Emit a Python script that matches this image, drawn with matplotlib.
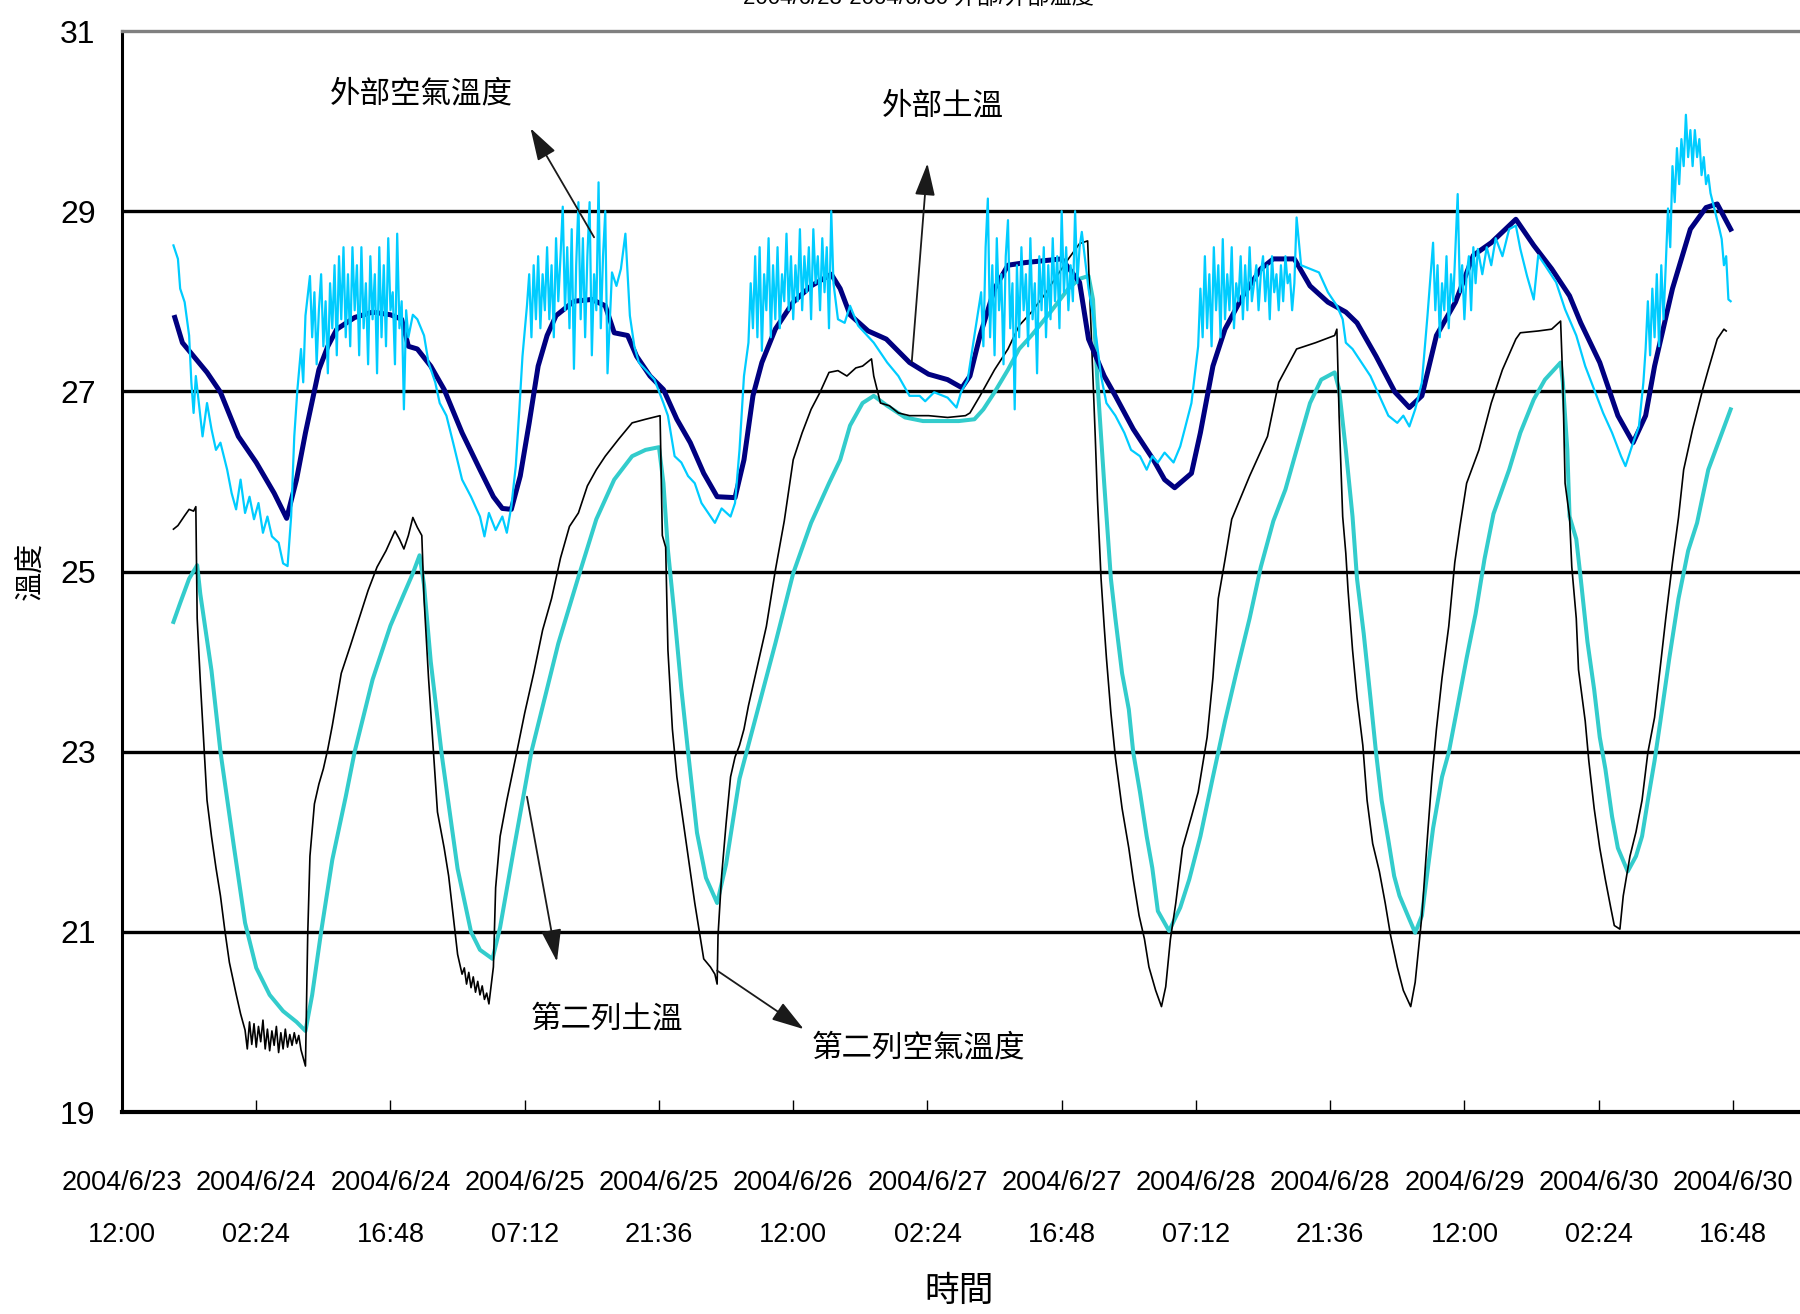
import numpy as np
import matplotlib
matplotlib.use("Agg")
import matplotlib.pyplot as plt
from matplotlib import font_manager as fm

# ---------------- data (days since 2004/6/23 12:00) ----------------
tick_labels = ["2004/6/23\n12:00", "2004/6/24\n02:24", "2004/6/24\n16:48",
               "2004/6/25\n07:12", "2004/6/25\n21:36", "2004/6/26\n12:00",
               "2004/6/27\n02:24", "2004/6/27\n16:48", "2004/6/28\n07:12",
               "2004/6/28\n21:36", "2004/6/29\n12:00", "2004/6/30\n02:24",
               "2004/6/30\n16:48"]
tick_step_days = 0.6
y_ticks = [19, 21, 23, 25, 27, 29, 31]

# 外部土溫 (outdoor soil)
soil_out_t = [0.236, 0.27, 0.32, 0.38, 0.44, 0.52, 0.60, 0.68, 0.736, 0.78, 0.82, 0.88, 0.92, 0.96,
              1.04, 1.12, 1.20, 1.25, 1.28, 1.32, 1.38, 1.44, 1.52, 1.60, 1.66, 1.70, 1.74, 1.78,
              1.82, 1.86, 1.90, 1.94, 2.02, 2.10, 2.16, 2.20, 2.26, 2.30, 2.36, 2.42, 2.48, 2.54,
              2.60, 2.66, 2.74, 2.78, 2.82, 2.86, 2.92, 3.00, 3.08, 3.17, 3.21, 3.254, 3.335, 3.416,
              3.52, 3.605, 3.69, 3.754, 3.79, 3.835, 3.90, 3.96, 4.04, 4.20, 4.28, 4.32, 4.39, 4.44,
              4.52, 4.61, 4.66, 4.705, 4.78, 4.82, 4.876, 4.93, 5.01, 5.09, 5.146, 5.24, 5.31, 5.39,
              5.47, 5.52, 5.605, 5.69, 5.754, 5.81, 5.875, 5.96, 6.04, 6.12, 6.23, 6.31, 6.39, 6.47,
              6.52, 6.605, 6.686, 6.754, 6.81, 6.85, 6.93, 7.01, 7.08, 7.13, 7.19]
soil_out_v = [27.82, 27.54, 27.39, 27.21, 26.99, 26.50, 26.21, 25.87, 25.59, 26.02, 26.54, 27.24, 27.50, 27.69,
              27.82, 27.88, 27.85, 27.80, 27.50, 27.47, 27.28, 27.02, 26.54, 26.13, 25.83, 25.70, 25.69, 26.06,
              26.65, 27.28, 27.62, 27.84, 28.00, 28.02, 27.95, 27.65, 27.62, 27.39, 27.17, 27.02, 26.69, 26.43,
              26.09, 25.83, 25.82, 26.24, 26.95, 27.32, 27.69, 27.99, 28.17, 28.30, 28.14, 27.85, 27.67, 27.58,
              27.32, 27.19, 27.13, 27.04, 27.17, 27.62, 28.14, 28.40, 28.43, 28.47, 28.21, 27.58, 27.17, 26.95,
              26.58, 26.24, 26.02, 25.93, 26.09, 26.54, 27.28, 27.69, 28.06, 28.36, 28.47, 28.47, 28.17, 27.99,
              27.88, 27.76, 27.39, 26.99, 26.82, 26.95, 27.62, 27.99, 28.51, 28.65, 28.91, 28.62, 28.36, 28.06,
              27.76, 27.32, 26.73, 26.43, 26.73, 27.28, 28.14, 28.80, 29.04, 29.08, 28.80]

# 外部空氣溫度 (outdoor air) - calmer stretches
air_out_t = [0.23, 0.25, 0.26, 0.28, 0.30, 0.31, 0.32, 0.33, 0.34, 0.36, 0.38, 0.40, 0.42, 0.44, 0.47,
             0.49, 0.51, 0.53, 0.55, 0.57, 0.59, 0.61, 0.63, 0.65, 0.67, 0.70, 0.72, 0.74, 0.756, 0.77,
             0.784, 0.80, 0.81, 0.82,
             1.30, 1.32, 1.35, 1.37, 1.40, 1.42, 1.45, 1.48, 1.52, 1.56, 1.60, 1.62, 1.64, 1.67, 1.70,
             1.72, 1.74, 1.76, 1.776, 1.79,
             2.19, 2.21, 2.23, 2.25, 2.27, 2.29, 2.31, 2.34, 2.38, 2.42, 2.44, 2.47, 2.50, 2.53, 2.56,
             2.59, 2.62, 2.65, 2.68, 2.72, 2.74, 2.76, 2.78,
             3.20, 3.23, 3.254, 3.29, 3.36, 3.42, 3.47, 3.52, 3.565, 3.59, 3.63, 3.69, 3.73, 3.75, 3.78, 3.81,
             4.32, 4.35, 4.376, 4.40, 4.44, 4.48, 4.51, 4.55, 4.58, 4.605, 4.63, 4.66, 4.70, 4.73, 4.75,
             4.78, 4.81,
             5.27, 5.31, 5.35, 5.39, 5.43, 5.456, 5.47, 5.50, 5.54, 5.58, 5.62, 5.66, 5.70, 5.727, 5.754,
             5.78, 5.81, 5.835,
             6.08, 6.10, 6.12, 6.14, 6.17, 6.20, 6.23, 6.25, 6.28, 6.31, 6.33, 6.36, 6.41, 6.45, 6.50,
             6.54, 6.58, 6.62, 6.66, 6.70, 6.72, 6.754, 6.78]
air_out_v = [28.62, 28.47, 28.14, 27.99, 27.62, 27.10, 26.76, 27.17, 26.95, 26.50, 26.87, 26.58, 26.35, 26.43, 26.13,
             25.87, 25.69, 26.02, 25.65, 25.83, 25.58, 25.76, 25.43, 25.61, 25.39, 25.32, 25.09, 25.06, 25.61, 26.50,
             27.02, 27.47, 27.10, 27.84,
             27.85, 27.80, 27.62, 27.32, 27.10, 26.87, 26.73, 26.43, 26.02, 25.83, 25.61, 25.39, 25.65, 25.46, 25.61,
             25.43, 25.72, 26.17, 26.80, 27.39,
             28.32, 28.17, 28.36, 28.75, 27.84, 27.50, 27.32, 27.24, 27.13, 26.87, 26.73, 26.28, 26.21, 26.06, 25.98,
             25.76, 25.65, 25.54, 25.70, 25.61, 25.76, 26.35, 27.17,
             27.80, 27.76, 27.95, 27.73, 27.54, 27.32, 27.17, 26.95, 26.95, 26.89, 26.99, 26.93, 26.82, 26.99, 27.13, 27.62,
             28.14, 27.69, 27.17, 26.87, 26.73, 26.54, 26.35, 26.28, 26.13, 26.28, 26.21, 26.32, 26.21, 26.39, 26.58,
             26.87, 27.50,
             28.40, 28.36, 28.32, 28.10, 27.95, 27.80, 27.54, 27.47, 27.32, 27.17, 26.95, 26.73, 26.65, 26.73, 26.61,
             26.80, 27.10, 27.84,
             28.30, 28.60, 28.40, 28.70, 28.50, 28.80, 28.84, 28.58, 28.28, 28.02, 28.51, 28.40, 28.21, 27.91, 27.62,
             27.28, 27.02, 26.76, 26.54, 26.28, 26.17, 26.43, 26.61]

# 外部空氣溫度 - noisy daytime stretches, logged every 0.01 day from the given start
air_burst_step = 0.01
air_burst_a_start = 0.84
air_burst_a = [28.28, 27.6, 28.1, 27.3, 27.9, 28.3, 27.5, 28.0, 27.2, 28.2, 27.7, 28.4, 27.4, 28.5, 27.8,
               28.6, 27.6, 28.3, 27.5, 28.6, 27.9, 28.4, 27.4, 28.6, 27.7, 28.2, 27.3, 28.5, 27.8, 28.3,
               27.2, 28.6, 27.6, 28.4, 27.5, 28.7, 27.9, 28.1, 27.3, 28.75, 27.7, 28.0, 26.8, 27.9, 27.6]
air_burst_b_start = 1.81
air_burst_b = [27.95, 28.3, 27.6, 28.4, 27.8, 28.5, 27.7, 28.3, 27.9, 28.6, 27.8, 28.4, 27.6, 28.7, 28.0,
               28.5, 29.05, 27.9, 28.6, 27.7, 28.8, 27.25, 28.4, 29.1, 27.8, 28.7, 27.6, 28.5, 29.1, 27.4,
               28.3, 27.9, 29.32, 27.7, 28.5, 29.0, 27.2]
air_burst_c_start = 2.80
air_burst_c = [27.54, 28.2, 27.7, 28.5, 27.6, 28.6, 27.45, 28.3, 27.9, 28.7, 27.6, 28.4, 27.8, 28.6, 27.7,
               28.3, 28.0, 28.75, 27.9, 28.5, 27.8, 28.4, 28.0, 28.8, 27.9, 28.5, 28.1, 28.6, 27.8, 28.8,
               28.2, 28.5, 27.9, 28.7, 28.1, 28.6, 27.7, 29.0, 28.2]
air_burst_d_start = 3.84
air_burst_d = [28.1, 27.5, 28.6, 29.14, 27.6, 28.4, 27.4, 28.7, 27.9, 28.3, 27.3, 28.5, 28.9, 27.7, 28.2,
               26.8, 28.4, 27.6, 28.6, 27.9, 28.3, 27.5, 28.7, 27.8, 28.2, 27.2, 28.5, 27.9, 28.6, 27.6,
               28.4, 27.8, 28.7, 28.0, 28.5, 27.7, 29.0, 28.1, 28.6, 27.9, 28.4, 28.0, 29.0, 28.2, 28.6, 28.77]
air_burst_e_start = 4.82
air_burst_e = [28.14, 27.6, 28.5, 27.7, 28.3, 27.5, 28.6, 27.9, 28.4, 27.6, 28.69, 27.8, 28.3, 27.9, 28.6,
               27.7, 28.2, 28.0, 28.5, 27.8, 28.4, 27.9, 28.6, 28.0, 28.2, 28.4, 27.9, 28.3, 28.5, 28.0,
               28.4, 27.8, 28.5, 28.1, 28.3, 27.9, 28.4, 28.0, 28.5, 28.2, 28.3, 27.9, 28.2, 28.93]
air_burst_f_start = 5.86
air_burst_f = [28.65, 27.9, 28.4, 27.6, 28.2, 27.9, 28.5, 27.7, 28.3, 28.0, 28.6, 29.19, 28.1, 28.4, 27.8,
               28.3, 28.5, 27.9, 28.6, 28.2, 28.58]
air_burst_g_start = 6.80
air_burst_g = [27.1, 27.47, 28.0, 27.4, 28.14, 27.6, 28.3, 27.5, 28.4, 27.8, 28.40, 29.03, 28.6, 29.5, 29.1,
               29.7, 29.3, 29.8, 29.5, 30.07, 29.6, 29.9, 29.5, 29.9, 29.6, 29.8, 29.4, 29.6, 29.3, 29.4,
               29.2, 29.1, 29.0, 28.9, 28.8, 28.69, 28.40, 28.5, 28.02, 28.0]

# 第二列空氣溫度 (row 2 air)
air_row2_t = [0.23, 0.25, 0.28, 0.30, 0.32, 0.33, 0.336, 0.35, 0.364, 0.38, 0.40, 0.42, 0.44, 0.46, 0.48,
              0.51, 0.53, 0.55, 0.56, 0.57, 0.58, 0.59, 0.60, 0.61, 0.62, 0.63, 0.64, 0.65, 0.66, 0.67,
              0.68, 0.69, 0.70, 0.71, 0.72, 0.73, 0.74, 0.75, 0.76, 0.77, 0.78, 0.79, 0.80, 0.82, 0.83,
              0.84, 0.86, 0.88, 0.90, 0.92, 0.94, 0.98, 1.02, 1.06, 1.10, 1.14, 1.18, 1.22, 1.24, 1.26,
              1.28, 1.30, 1.32, 1.34, 1.35, 1.37, 1.39, 1.41, 1.44, 1.46, 1.48, 1.50, 1.52, 1.53, 1.54,
              1.55, 1.56, 1.57, 1.58, 1.59, 1.60, 1.61, 1.62, 1.63, 1.64, 1.66, 1.67, 1.69, 1.72, 1.76,
              1.80, 1.84, 1.88, 1.92, 1.96, 2.00, 2.04, 2.08, 2.12, 2.16, 2.22, 2.28, 2.34, 2.405, 2.415,
              2.43, 2.44, 2.46, 2.48, 2.50, 2.52, 2.54, 2.56, 2.58, 2.60, 2.63, 2.65, 2.66, 2.664, 2.68,
              2.70, 2.72, 2.74, 2.76, 2.78, 2.80, 2.84, 2.88, 2.92, 2.96, 3.00, 3.04, 3.08, 3.12, 3.16,
              3.20, 3.24, 3.28, 3.31, 3.35, 3.36, 3.39, 3.43, 3.47, 3.52, 3.605, 3.69, 3.77, 3.79, 3.835,
              3.90, 3.96, 4.01, 4.065, 4.12, 4.17, 4.23, 4.28, 4.316, 4.335, 4.35, 4.36, 4.376, 4.39, 4.40,
              4.42, 4.44, 4.47, 4.50, 4.52, 4.546, 4.57, 4.59, 4.62, 4.646, 4.665, 4.686, 4.71, 4.74, 4.78,
              4.81, 4.85, 4.876, 4.90, 4.93, 4.96, 5.04, 5.12, 5.17, 5.25, 5.335, 5.42, 5.43, 5.44, 5.456,
              5.47, 5.48, 5.50, 5.52, 5.546, 5.565, 5.59, 5.62, 5.646, 5.67, 5.70, 5.727, 5.76, 5.78, 5.81,
              5.835, 5.855, 5.875, 5.90, 5.93, 5.957, 5.98, 6.01, 6.065, 6.12, 6.17, 6.23, 6.25, 6.33, 6.39,
              6.43, 6.44, 6.45, 6.47, 6.48, 6.50, 6.51, 6.54, 6.556, 6.58, 6.605, 6.63, 6.654, 6.67, 6.695,
              6.71, 6.74, 6.767, 6.794, 6.82, 6.85, 6.876, 6.90, 6.93, 6.957, 6.98, 7.02, 7.065, 7.09, 7.13,
              7.16, 7.17]
air_row2_v = [25.47, 25.51, 25.62, 25.69, 25.67, 25.72, 24.48, 23.78, 23.16, 22.46, 22.06, 21.71, 21.40, 21.01, 20.66,
              20.31, 20.09, 19.91, 19.70, 20.00, 19.75, 19.98, 19.72, 19.95, 19.78, 20.02, 19.70, 19.92, 19.68, 19.90,
              19.74, 19.95, 19.66, 19.88, 19.70, 19.92, 19.72, 19.86, 19.74, 19.88, 19.76, 19.85, 19.69, 19.51, 20.96,
              21.84, 22.42, 22.64, 22.81, 23.03, 23.29, 23.87, 24.17, 24.48, 24.79, 25.05, 25.23, 25.45, 25.36, 25.25,
              25.40, 25.60, 25.49, 25.40, 24.70, 23.82, 23.07, 22.33, 21.93, 21.62, 21.19, 20.75, 20.53, 20.60, 20.42,
              20.55, 20.38, 20.50, 20.33, 20.45, 20.30, 20.40, 20.25, 20.32, 20.20, 20.61, 21.49, 22.06, 22.46, 22.94,
              23.43, 23.87, 24.35, 24.70, 25.15, 25.50, 25.65, 25.95, 26.13, 26.28, 26.47, 26.65, 26.69, 26.73, 25.40,
              25.27, 24.13, 23.25, 22.72, 22.37, 22.02, 21.67, 21.32, 21.01, 20.70, 20.61, 20.53, 20.42, 20.96, 21.62,
              22.20, 22.72, 22.94, 23.07, 23.25, 23.51, 23.95, 24.39, 25.01, 25.56, 26.24, 26.54, 26.80, 26.99, 27.21,
              27.23, 27.17, 27.26, 27.28, 27.36, 27.17, 26.87, 26.84, 26.76, 26.73, 26.73, 26.71, 26.73, 26.76, 26.95,
              27.24, 27.47, 27.73, 27.88, 28.06, 28.25, 28.47, 28.64, 28.67, 27.47, 26.50, 25.80, 24.92, 24.39, 24.04,
              23.43, 22.94, 22.37, 21.93, 21.58, 21.18, 20.92, 20.61, 20.35, 20.17, 20.39, 20.92, 21.32, 21.93, 22.28,
              22.55, 23.16, 23.82, 24.70, 25.13, 25.58, 26.06, 26.50, 27.10, 27.47, 27.54, 27.62, 27.69, 26.73, 25.61,
              25.20, 24.79, 24.13, 23.60, 23.07, 22.46, 21.98, 21.67, 21.32, 20.96, 20.61, 20.35, 20.17, 20.44, 21.18,
              22.06, 22.72, 23.25, 23.82, 24.39, 25.10, 25.50, 25.98, 26.35, 26.87, 27.24, 27.58, 27.65, 27.67, 27.69,
              27.78, 27.10, 25.98, 25.60, 25.05, 24.48, 23.91, 23.34, 22.90, 22.37, 21.93, 21.58, 21.27, 21.07, 21.03,
              21.40, 21.84, 22.11, 22.46, 22.99, 23.38, 23.95, 24.48, 25.10, 25.60, 26.13, 26.58, 27.02, 27.24, 27.58,
              27.69, 27.67]

# 第二列土溫 (row 2 soil)
soil_row2_t = [0.23, 0.26, 0.30, 0.336, 0.35, 0.40, 0.44, 0.50, 0.55, 0.60, 0.66, 0.72, 0.78, 0.82, 0.85,
               0.89, 0.94, 1.00, 1.04, 1.12, 1.20, 1.26, 1.30, 1.33, 1.35, 1.38, 1.43, 1.50, 1.56, 1.60,
               1.656, 1.69, 1.75, 1.83, 1.95, 2.04, 2.12, 2.20, 2.28, 2.34, 2.40, 2.42, 2.44, 2.47, 2.50,
               2.53, 2.57, 2.61, 2.66, 2.70, 2.76, 2.84, 2.92, 3.00, 3.08, 3.16, 3.21, 3.254, 3.31, 3.36,
               3.42, 3.50, 3.58, 3.66, 3.74, 3.81, 3.85, 3.90, 3.96, 4.01, 4.065, 4.15, 4.23, 4.28, 4.32,
               4.34, 4.36, 4.39, 4.42, 4.44, 4.47, 4.50, 4.52, 4.55, 4.58, 4.605, 4.63, 4.68, 4.73, 4.77,
               4.82, 4.876, 4.93, 4.98, 5.04, 5.09, 5.146, 5.20, 5.25, 5.31, 5.36, 5.42, 5.44, 5.47, 5.50,
               5.52, 5.55, 5.58, 5.605, 5.63, 5.66, 5.686, 5.71, 5.754, 5.78, 5.81, 5.835, 5.86, 5.90, 5.93,
               5.97, 6.01, 6.05, 6.09, 6.13, 6.20, 6.25, 6.31, 6.36, 6.43, 6.44, 6.46, 6.47, 6.50, 6.52,
               6.55, 6.58, 6.605, 6.63, 6.66, 6.686, 6.73, 6.767, 6.794, 6.82, 6.85, 6.876, 6.916, 6.957, 7.00,
               7.04, 7.09, 7.145, 7.19]
soil_row2_v = [24.44, 24.65, 24.92, 25.07, 24.75, 23.90, 23.00, 21.95, 21.10, 20.60, 20.30, 20.12, 20.00, 19.90, 20.30,
               21.00, 21.80, 22.50, 23.00, 23.80, 24.40, 24.75, 24.98, 25.18, 24.85, 24.00, 22.95, 21.70, 21.00, 20.80,
               20.70, 21.05, 21.90, 23.00, 24.20, 24.94, 25.58, 26.02, 26.28, 26.35, 26.38, 25.98, 25.24, 24.50, 23.70,
               23.00, 22.10, 21.60, 21.32, 21.75, 22.70, 23.45, 24.20, 24.98, 25.54, 25.98, 26.24, 26.62, 26.87, 26.95,
               26.84, 26.71, 26.67, 26.67, 26.67, 26.69, 26.80, 26.99, 27.24, 27.47, 27.62, 27.88, 28.14, 28.25, 28.28,
               28.02, 27.10, 25.98, 24.92, 24.48, 23.87, 23.47, 22.99, 22.55, 22.06, 21.71, 21.23, 21.01, 21.27, 21.58,
               22.06, 22.72, 23.34, 23.87, 24.48, 25.05, 25.56, 25.91, 26.35, 26.87, 27.13, 27.21, 27.02, 26.35, 25.61,
               24.92, 24.31, 23.60, 22.99, 22.46, 22.02, 21.62, 21.40, 21.14, 20.99, 21.18, 21.67, 22.15, 22.72, 22.99,
               23.51, 24.04, 24.53, 25.14, 25.64, 26.13, 26.54, 26.91, 27.13, 27.32, 27.10, 26.35, 25.61, 25.36, 24.92,
               24.22, 23.69, 23.16, 22.81, 22.28, 21.93, 21.67, 21.84, 22.06, 22.46, 22.90, 23.34, 24.04, 24.70, 25.23,
               25.54, 26.13, 26.50, 26.80]

# annotation labels: (text, text position, arrow tail, arrow tip) in data units
labels = ["外部空氣溫度", "外部土溫", "第二列土溫", "第二列空氣溫度"]
label_xy = [(1.34, 30.30), (3.67, 30.17), (2.165, 20.03), (3.56, 19.71)]
arrow_from = [(2.11, 28.71), (3.53, 27.33), (1.81, 22.50), (2.66, 20.57)]
arrow_to = [(1.826, 29.92), (3.60, 29.53), (1.944, 20.67), (3.047, 19.92)]

title_text = "2004/6/23-2004/6/30 外部/外部溫度"
y_label = "溫度"
x_label = "時間"


# ---------------- fonts ----------------
def pick(*names):
    for n in names:
        try:
            fm.findfont(fm.FontProperties(family=n), fallback_to_default=False)
            return n
        except Exception:
            pass
    return "DejaVu Sans"


NUM_FONT = pick("Liberation Sans Narrow", "Liberation Sans")
NARROW = NUM_FONT == "Liberation Sans Narrow"
CJK = ["Noto Sans CJK TC", "Noto Sans CJK SC", "DejaVu Sans"]
plt.rcParams["font.family"] = [NUM_FONT, "Noto Sans CJK TC", "DejaVu Sans"]

# ---------------- assemble outdoor air ----------------
pts = list(zip(air_out_t, air_out_v))
for start, vals in [(air_burst_a_start, air_burst_a), (air_burst_b_start, air_burst_b),
                    (air_burst_c_start, air_burst_c), (air_burst_d_start, air_burst_d),
                    (air_burst_e_start, air_burst_e), (air_burst_f_start, air_burst_f),
                    (air_burst_g_start, air_burst_g)]:
    for i, v in enumerate(vals):
        pts.append((start + i * air_burst_step, v))
pts.sort(key=lambda p: p[0])
air_all_t = [p[0] for p in pts]
air_all_v = [p[1] for p in pts]

# ---------------- figure ----------------
W, H = 1800, 1314
fig = plt.figure(figsize=(W / 100, H / 100), dpi=100, facecolor="white")
left, right, top, bottom = 122, 1800, 31, 1112
ax = fig.add_axes([left / W, 1 - bottom / H, (right - left) / W, (bottom - top) / H])
ax.set_facecolor("white")

ax.plot(soil_row2_t, soil_row2_v, color="#33CCCC", lw=2.9, zorder=3)
ax.plot(air_row2_t, air_row2_v, color="black", lw=1.2, zorder=4)
ax.plot(soil_out_t, soil_out_v, color="#000080", lw=3.6, zorder=5)
ax.plot(air_all_t, air_all_v, color="#00CCFF", lw=1.6, zorder=6)

ax.set_xlim(0, 7.5)
ax.set_ylim(19, 31)
ax.set_yticks(y_ticks)
ax.set_yticklabels([str(v) for v in y_ticks])
xt = [i * tick_step_days for i in range(len(tick_labels))]
ax.set_xticks(xt)
ax.set_xticklabels(tick_labels)

for gy in y_ticks[1:-1]:
    ax.axhline(gy, color="black", lw=2.4, zorder=1)

ax.spines["right"].set_visible(False)
ax.spines["top"].set_color("#808080")
ax.spines["top"].set_linewidth(2.4)
ax.spines["left"].set_linewidth(2.2)
ax.spines["bottom"].set_linewidth(3.0)

xsize = 22.5 if NARROW else 19.5
ax.tick_params(axis="y", length=0, pad=19, labelsize=23)
ax.tick_params(axis="x", direction="in", length=9, width=1.0, pad=42, labelsize=xsize)
for lab in ax.get_xticklabels():
    lab.set_linespacing(1.75 if NARROW else 2.3)
    lab.set_family(NUM_FONT)
for lab in ax.get_yticklabels():
    lab.set_family(NUM_FONT)

for txt, (tx, ty), (ax0, ay0), (ax1, ay1) in zip(labels, label_xy, arrow_from, arrow_to):
    ax.text(tx, ty, txt, family=CJK, fontsize=22, ha="center", va="center", zorder=10, clip_on=False)
    ax.annotate("", xy=(ax1, ay1), xytext=(ax0, ay0), annotation_clip=False,
                arrowprops=dict(arrowstyle="-|>,head_length=0.8,head_width=0.25",
                                color="#1a1a1a", lw=1.3, mutation_scale=25,
                                shrinkA=0, shrinkB=0), zorder=10)

fig.text(31 / W, 1 - 571 / H, y_label, family=CJK, fontsize=21, rotation=90,
         ha="center", va="center")
fig.text(959 / W, 1 - 1274 / H, x_label, family=CJK, fontsize=25, ha="center", va="top")
fig.text(918 / W, 1 - 4 / H, title_text, family=[NUM_FONT] + CJK, fontsize=16,
         ha="center", va="baseline")

fig.savefig("out.png", dpi=100, facecolor="white")
